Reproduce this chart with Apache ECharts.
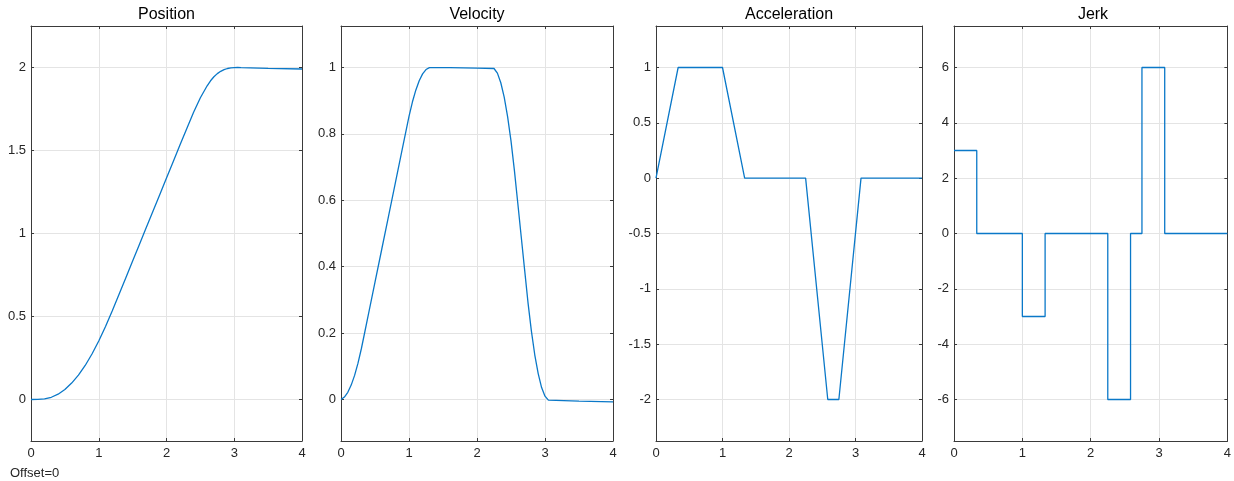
<!DOCTYPE html>
<html>
<head>
<meta charset="utf-8">
<script src="https://cdn.jsdelivr.net/npm/echarts@6/dist/echarts.min.js"></script>
<style>
html,body{margin:0;padding:0;background:#fff;}
#chart{width:1234px;height:481px;}
</style>
</head>
<body>
<div id="chart"></div>
<script>
// ---- data ----
var titles = ['Position', 'Velocity', 'Acceleration', 'Jerk'];
var xTicks = [0, 1, 2, 3, 4];

var posT = [0, 0.1, 0.2, 0.3, 0.4, 0.5, 0.6, 0.7, 0.8, 0.9, 1.0, 1.1, 1.2, 1.3, 1.4, 1.5, 1.6, 1.7, 1.8, 1.9, 2.0, 2.1, 2.2, 2.3, 2.4, 2.5, 2.6, 2.65, 2.7, 2.75, 2.8, 2.85, 2.9, 2.95, 3.0, 3.05, 3.1, 3.5, 4.0];
var posV = [0, 0.0005, 0.004, 0.0135, 0.032, 0.060, 0.099, 0.147, 0.205, 0.274, 0.352, 0.440, 0.535, 0.634, 0.734, 0.834, 0.934, 1.034, 1.134, 1.234, 1.334, 1.434, 1.534, 1.633, 1.730, 1.818, 1.890, 1.920, 1.944, 1.963, 1.977, 1.987, 1.994, 1.998, 1.999, 2.0, 1.999, 1.995, 1.991];

var velT = [0, 0.05, 0.1, 0.15, 0.2, 0.25, 0.3, 0.35, 0.4, 0.5, 0.6, 0.7, 0.8, 0.9, 1.0, 1.05, 1.1, 1.15, 1.2, 1.25, 1.3, 1.313, 1.6, 2.0, 2.25, 2.3, 2.35, 2.4, 2.45, 2.5, 2.55, 2.6, 2.65, 2.7, 2.75, 2.8, 2.85, 2.9, 2.95, 3.0, 3.05, 3.07, 3.5, 4.0];
var velV = [0, 0.0074, 0.0216, 0.0434, 0.0726, 0.1094, 0.1536, 0.2033, 0.2533, 0.3533, 0.4533, 0.5533, 0.6533, 0.7533, 0.8527, 0.896, 0.9317, 0.96, 0.9807, 0.9939, 0.9997, 1.0, 0.9995, 0.998, 0.997, 0.983, 0.954, 0.911, 0.852, 0.779, 0.690, 0.591, 0.491, 0.391, 0.292, 0.206, 0.134, 0.078, 0.036, 0.010, -0.002, -0.004, -0.005, -0.007];

var accT = [0, 0.333, 1.0, 1.333, 2.25, 2.583, 2.75, 3.083, 4.0];
var accV = [0, 1, 1, 0, 0, -2, -2, 0, 0];

var jerkT = [0, 0.333, 0.333, 1.0, 1.0, 1.333, 1.333, 2.25, 2.25, 2.583, 2.583, 2.75, 2.75, 3.083, 3.083, 4.0];
var jerkV = [3, 3, 0, 0, -3, -3, 0, 0, -6, -6, 0, 0, 6, 6, 0, 0];

var yMin = [-0.25, -0.125, -2.375, -7.5];
var yMax = [2.25, 1.125, 1.375, 7.5];
var ySplit = [5, 6, 8, 8];

var footnote = 'Offset=0';

// ---- layout ----
var grids = [
  {left: 31, top: 26, width: 271, height: 415},
  {left: 341, top: 26, width: 272, height: 415},
  {left: 656, top: 26, width: 266, height: 415},
  {left: 954, top: 26, width: 278, height: 415}
];
var FONT = '"Liberation Sans", Arial, Helvetica, sans-serif';
var axisCol = '#3a3a3a';
var gridCol = '#e4e4e4';
var lineCol = '#0a78c8';

function zip(a, b) { return a.map(function (v, i) { return [v, b[i]]; }); }
var seriesData = [zip(posT, posV), zip(velT, velV), zip(accT, accV), zip(jerkT, jerkV)];

var xAxes = [], yAxes = [], series = [], graphics = [];
grids.forEach(function (g, i) {
  xAxes.push({
    type: 'value', gridIndex: i, position: 'bottom', min: xTicks[0], max: xTicks[xTicks.length - 1], interval: 1,
    axisLine: {show: true, onZero: false, lineStyle: {color: axisCol, width: 1}},
    axisTick: {show: true, inside: true, length: 3, lineStyle: {color: axisCol}},
    axisLabel: {show: true, color: '#262626', fontFamily: FONT, fontSize: 13, margin: 6},
    splitLine: {show: true, lineStyle: {color: gridCol, width: 1}}
  });
  xAxes.push({
    type: 'value', gridIndex: i, position: 'top', min: xTicks[0], max: xTicks[xTicks.length - 1], interval: 1,
    axisLine: {show: true, onZero: false, lineStyle: {color: axisCol, width: 1}},
    axisTick: {show: true, inside: true, length: 3, lineStyle: {color: axisCol}},
    axisLabel: {show: false},
    splitLine: {show: false}
  });
  yAxes.push({
    type: 'value', gridIndex: i, position: 'left', min: yMin[i], max: yMax[i], splitNumber: ySplit[i],
    axisLine: {show: true, onZero: false, lineStyle: {color: axisCol, width: 1}},
    axisTick: {show: true, inside: true, length: 3, lineStyle: {color: axisCol}},
    axisLabel: {show: true, showMinLabel: false, showMaxLabel: false, color: '#262626', fontFamily: FONT, fontSize: 13, margin: 5},
    splitLine: {show: true, lineStyle: {color: gridCol, width: 1}}
  });
  yAxes.push({
    type: 'value', gridIndex: i, position: 'right', min: yMin[i], max: yMax[i], splitNumber: ySplit[i],
    axisLine: {show: true, onZero: false, lineStyle: {color: axisCol, width: 1}},
    axisTick: {show: true, inside: true, length: 3, lineStyle: {color: axisCol}},
    axisLabel: {show: false},
    splitLine: {show: false}
  });
  series.push({
    type: 'line', xAxisIndex: 2 * i, yAxisIndex: 2 * i, data: seriesData[i],
    showSymbol: false, symbol: 'none', smooth: false, animation: false,
    lineStyle: {color: lineCol, width: 1.3}, z: 3
  });
  graphics.push({
    type: 'text', x: g.left + g.width / 2, y: 15,
    style: {text: titles[i], font: '16px ' + FONT, fill: '#000', align: 'center', verticalAlign: 'middle'}
  });
});
graphics.push({
  type: 'text', x: 10, y: 473,
  style: {text: footnote, font: '13px ' + FONT, fill: '#262626', align: 'left', verticalAlign: 'middle'}
});

var chart = echarts.init(document.getElementById('chart'), null, {renderer: 'canvas'});
chart.setOption({
  backgroundColor: '#ffffff',
  animation: false,
  grid: grids,
  xAxis: xAxes,
  yAxis: yAxes,
  series: series,
  graphic: graphics
});
</script>
</body>
</html>
